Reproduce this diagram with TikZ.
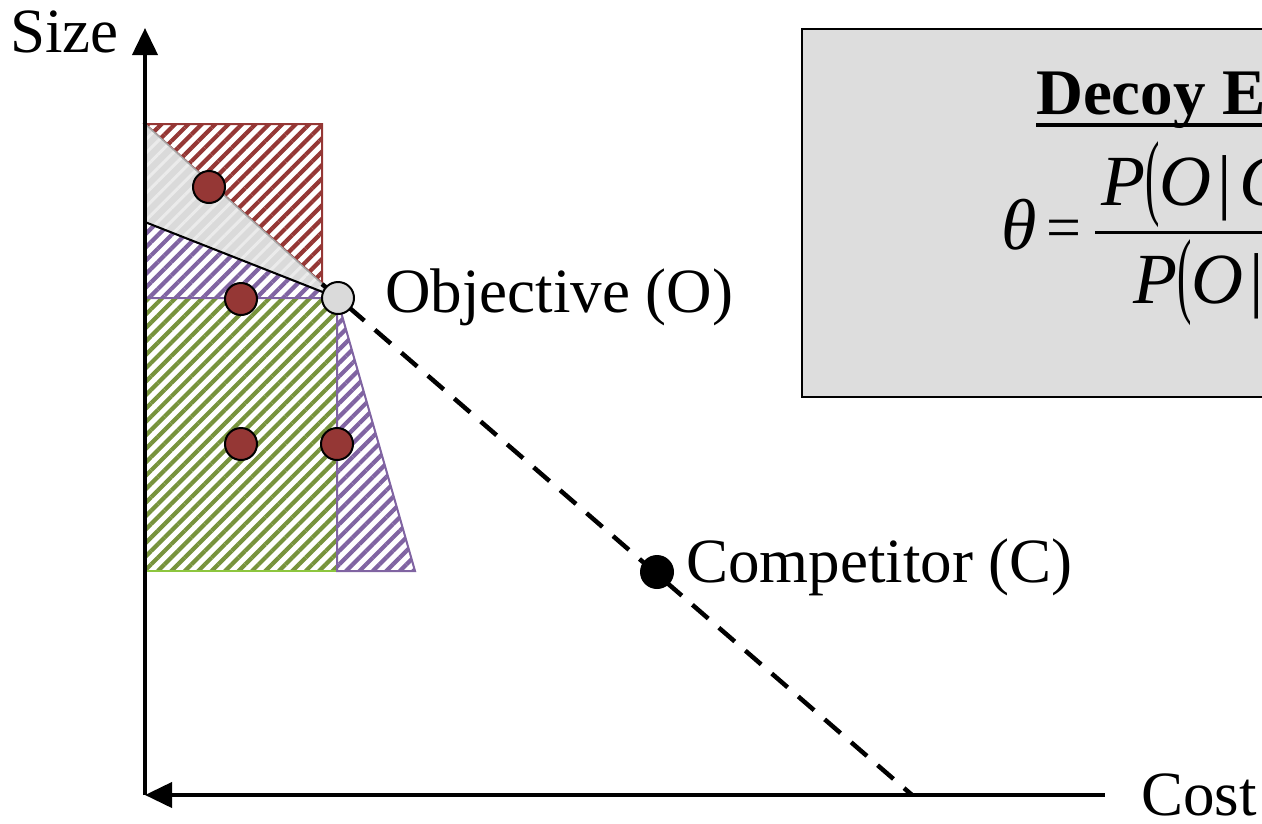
\documentclass[tikz,border=0pt]{standalone}
\usepackage{fontspec}
\setmainfont{Liberation Serif}
\usepackage{graphicx}
\usetikzlibrary{arrows.meta,patterns.meta}
\definecolor{dred}{HTML}{953735}
\definecolor{hgreen}{HTML}{77933C}
\definecolor{lgreen}{HTML}{8DC63F}
\definecolor{hpurple}{HTML}{8064A2}
\definecolor{ogray}{HTML}{DADADA}
\definecolor{boxgray}{HTML}{DDDDDD}
\newcommand\tallp[1]{\raisebox{-0.03em}{\scalebox{0.6}[1.32]{\upshape #1}}}
\newcommand\givenbar{\kern6pt{\upshape|}\kern8pt}
\begin{document}
\begin{tikzpicture}[x=1pt,y=-1pt,
  lbl/.style={font=\fontsize{63}{70}\selectfont, inner sep=0pt, anchor=base west},
  mathlbl/.style={font=\fontsize{72}{80}\selectfont, inner sep=0pt, anchor=base west},
  dot/.style={circle, draw=black, line width=2pt, minimum size=32pt, inner sep=0pt},
  hatch/.style={pattern={Lines[angle=45,distance=9.5pt,line width=4.2pt]}, pattern color=#1},
  axis/.style={line width=4pt},
  region/.style={draw=#1, line width=2pt, hatch=#1},
]
\useasboundingbox (0,0) rectangle (1262,823);
\clip (0,0) rectangle (1262,823);

% formula box
\node[draw=black, line width=2pt, fill=boxgray, anchor=north west,
      minimum width=520pt, minimum height=368pt, inner sep=0pt] (box) at (801,28) {};
\node[font=\bfseries\fontsize{65}{72}\selectfont, inner sep=0pt, anchor=base west] (title) at (1036,114) {Decoy Effect};
\draw[line width=4pt] ([yshift=-11pt]title.base west) -- ([yshift=-11pt]title.base east);
\node[mathlbl] (theta) at (1001,249) {\itshape θ};
\node[font=\fontsize{62}{70}\selectfont, inner sep=0pt, anchor=base] (eq) at (1064,248) {=};
\node[mathlbl] (num) at (1101,205) {\itshape P\tallp{(}O\givenbar C, D\tallp{)}};
\node[mathlbl] (den) at (1133,303) {\itshape P\tallp{(}O\givenbar C\tallp{)}};
\draw[line width=3pt] (1095,232) -- (1330,232);

% regions
\draw[region=dred] (145,124) -- (322,124) -- (322,283) -- cycle;
\draw[region=hpurple] (145,222) -- (338,298) -- (145,298) -- cycle;
\fill[ogray] (145,124) -- (338,298) -- (145,222) -- cycle;
\fill[pattern={Lines[angle=45,distance=9.5pt,line width=3pt]}, pattern color=white!45!ogray] (145,124) -- (338,298) -- (145,222) -- cycle;
\draw[gray!70, line width=1.5pt] (145,124) -- (338,298);
\draw[black, line width=2pt] (145,222) -- (338,298);
\draw[draw=lgreen, line width=2pt, hatch=hgreen] (145,298) rectangle (337,571);
\draw[hpurple, line width=2pt] (145,298) -- (337,298);
\draw[region=hpurple] (337,298) -- (337,571) -- (415,571) -- cycle;

% axes
\coordinate (orig) at (145,795);
\coordinate (ytip) at (145,28);
\coordinate (xend) at (1105,795);
\draw[axis, -{Triangle[length=27pt,width=25pt]}] (orig) -- (ytip);
\draw[axis, {Triangle[length=27pt,width=25pt]}-] (orig) -- (xend);
\node[lbl] (size) at (10,52) {Size};
\node[lbl] (cost) at (1141,815) {Cost};

% trade-off line and options
\coordinate (dstart) at (322,284);
\coordinate (dend) at (912,795);
\draw[line width=4.5pt, dash pattern=on 21pt off 14pt] (dstart) -- (dend);
\node[dot, fill=ogray] (O) at (338,298) {};
\node[dot, fill=black] (C) at (657,572) {};
\node[dot, fill=dred] (d1) at (209,187) {};
\node[dot, fill=dred] (d2) at (241,299) {};
\node[dot, fill=dred] (d3) at (241,444) {};
\node[dot, fill=dred] (d4) at (337,444) {};
\node[lbl] (olabel) at (385,312) {Objective (O)};
\node[lbl] (clabel) at (686,582) {Competitor (C)};
\end{tikzpicture}
\end{document}
